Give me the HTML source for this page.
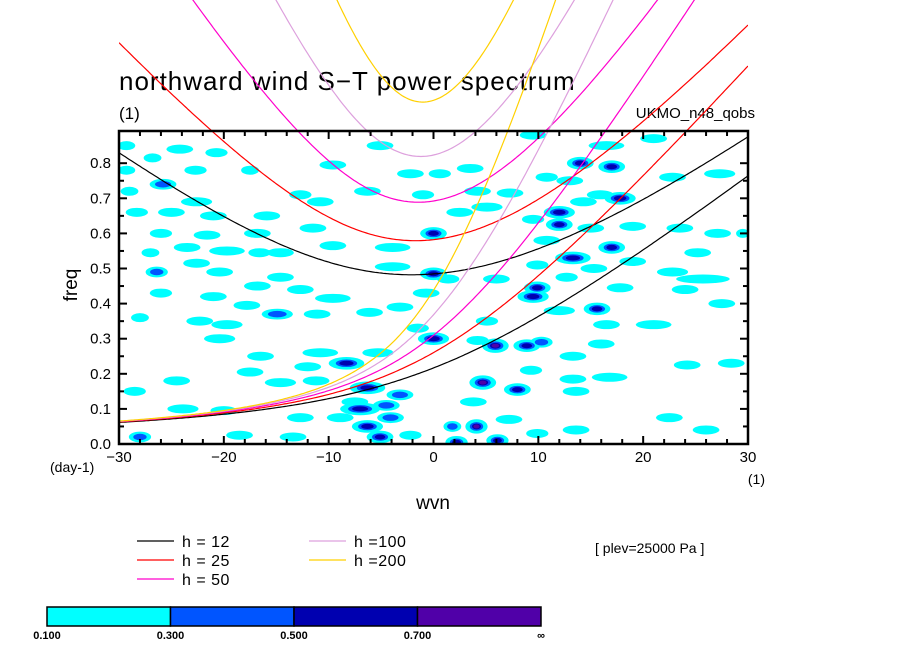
<!DOCTYPE html>
<html><head><meta charset="utf-8"><style>
html,body{margin:0;padding:0;background:#fff;}
svg{display:block;font-family:"Liberation Sans",sans-serif;}
</style></head><body>
<svg id="chart" width="904" height="654" viewBox="0 0 904 654" xmlns="http://www.w3.org/2000/svg">
<defs><clipPath id="plotclip"><rect x="119" y="131" width="629" height="313"/></clipPath>
<clipPath id="curveclip"><rect x="119" y="0" width="629" height="444"/></clipPath></defs>
<text x="119" y="90" font-size="26" letter-spacing="1" fill="#000">northward wind S−T power spectrum</text>
<text x="119" y="119" font-size="17" fill="#000">(1)</text>
<text x="755" y="118" font-size="15" text-anchor="end" fill="#000">UKMO_n48_qobs</text>
<g id="blobs" clip-path="url(#plotclip)"></g>
<g id="curves" clip-path="url(#curveclip)"></g>
<rect x="119" y="131" width="629" height="313" fill="none" stroke="#000" stroke-width="2.5"/>
<g id="ticks"></g>
<text transform="translate(77,285) rotate(-90)" font-size="19" text-anchor="middle" fill="#000">freq</text>
<text x="433" y="509" font-size="19" text-anchor="middle" fill="#000">wvn</text>
<text x="50" y="472" font-size="14" fill="#000">(day-1)</text>
<text x="765" y="484" font-size="14" text-anchor="end" fill="#000">(1)</text>
<g id="legend"></g>
<text x="595" y="553" font-size="14" fill="#000">[ plev=25000 Pa ]</text>
<g id="colorbar"></g>
</svg>
<script>
// ----- data -----
const depths = [12, 25, 50, 100, 200];
const depthColors = ["#000000", "#ff0000", "#ff00cc", "#dda0dd", "#ffd000"];
const xTicks = [-30, -20, -10, 0, 10, 20, 30];
const yTicks = [0.0, 0.1, 0.2, 0.3, 0.4, 0.5, 0.6, 0.7, 0.8];
const levels = [0.1, 0.3, 0.5, 0.7];
const levelLabels = ["0.100", "0.300", "0.500", "0.700", "∞"];
const levelColors = ["#00ffff", "#0055ff", "#0000b0", "#5000a8"];
// contour blobs: wavenumber, frequency, level index (0..3), width in wvn units
const blobK = [-29.3,-24.2,-20.7,-26.8,-29.3,-22.7,-17.5,-25.8,-29,-22.6,-28.3,-25,-21,-15.9,-12.7,-10.8,-6.3,-9.6,-5.1,-2.2,
-26,-21.6,-16.8,-11.5,-19.7,-27,-23.5,-16.6,-14.6,-9.6,-3.9,-22.6,-26.4,-20.4,-14.6,-3.9,-16.8,-12.7,-26,-21,
-17.8,-9.6,-14.9,-22.3,-19.7,-11.1,-6.1,-3.2,-28,-20.4,-16.5,-10.8,-5.3,-8.3,-12,-17.5,-24.5,-14.6,-11.2,-28.5,
-23.9,-20,-6.3,-7,-3.2,-6.3,-4.1,-8.9,-28,-13.4,-5.1,-2.2,-12.7,-18.5,
0,-1,3.5,0.6,9.5,16.5,21,17,14,13,10.8,4.2,7.3,17.8,15.9,22.8,27.3,14.3,5.1,2.5,
12,12,9.5,15,19,23.5,27.1,29.5,10.8,17,13.3,9.9,15.3,25.2,22.8,25.7,0,1.4,6,9.5,
12.7,9.9,17.8,-0.7,15.6,16.5,21,12,5.1,0,8.9,5.9,10.3,4.2,13.3,16,16.8,13.3,24.2,28.4,
4.7,8,9.3,3.8,13.6,4.1,1.8,7.2,9.9,2.2,6.1,13.6,22.5,26,-7.5,-4.5,-1.5,24,27.5,19];
const blobF = [0.85,0.84,0.83,0.815,0.78,0.78,0.78,0.74,0.72,0.69,0.66,0.66,0.65,0.65,0.71,0.69,0.72,0.795,0.85,0.77,
0.60,0.595,0.60,0.615,0.55,0.545,0.56,0.545,0.545,0.565,0.56,0.515,0.49,0.49,0.475,0.505,0.45,0.44,0.43,0.42,
0.395,0.415,0.37,0.35,0.34,0.37,0.375,0.39,0.36,0.30,0.25,0.26,0.26,0.23,0.22,0.205,0.18,0.175,0.18,0.15,
0.10,0.095,0.16,0.10,0.14,0.05,0.075,0.075,0.02,0.02,0.02,0.025,0.075,0.025,
0.60,0.71,0.785,0.77,0.88,0.85,0.87,0.79,0.80,0.75,0.76,0.72,0.715,0.70,0.71,0.76,0.77,0.69,0.675,0.66,
0.66,0.625,0.64,0.615,0.62,0.615,0.60,0.60,0.58,0.56,0.53,0.51,0.50,0.545,0.49,0.47,0.485,0.47,0.47,0.42,
0.475,0.445,0.445,0.43,0.385,0.34,0.34,0.38,0.35,0.30,0.28,0.28,0.29,0.295,0.25,0.285,0.19,0.185,0.225,0.23,
0.175,0.155,0.21,0.12,0.15,0.05,0.05,0.07,0.03,0.005,0.01,0.04,0.075,0.04,0.12,0.11,0.33,0.44,0.40,0.52];
const blobLvl = [0,0,0,0,0,0,0,1,0,0,0,0,0,0,0,0,0,0,0,0,
0,0,0,0,0,0,0,0,0,0,0,0,1,0,0,0,0,0,0,0,
0,0,1,0,0,0,0,0,0,0,0,0,0,2,0,0,0,0,0,0,
0,0,2,2,1,2,1,0,1,0,2,0,0,0,
2,0,0,0,0,0,0,2,2,0,0,0,0,2,0,0,0,0,0,0,
2,2,0,0,0,0,0,0,0,2,2,0,0,0,0,0,2,0,0,2,
0,2,0,0,2,0,0,0,0,2,2,3,1,0,0,0,0,0,0,0,
3,2,0,0,0,3,1,0,0,2,2,0,0,0,0,1,0,0,0,0];
const blobW = [2,3,2.5,2,2,2.5,2,3,2,3.5,2.5,3,3,3,2.5,3,3,3,3,3,
2.5,3,3,3,4,2,3,2.5,3,3,4,3,2.5,3,3,4,3,3,2.5,3,
3,4,3.5,3,3.5,3,3,3,2,3.5,3,4,3.5,4,3,3,3,3.5,3,2.5,
3.5,3,4,4.5,3,3.5,3,3,2.5,3,3,2.5,3,3,
3,2.5,3,2.5,3,4,3,3,3,3,2.5,3,3,3.5,3,3,3.5,3,3.5,3,
3.5,3,2.5,3,3,3,3,1.5,3,3,4,2.5,3,3,3.5,6,3,2.5,3,3.5,
2.5,3,3,3,3,3,4,3.5,2.5,3.5,3,3,2.5,2.5,3,3,4,3,3,3,
3,3,2.5,3,3,2.5,2,3,2.5,2.5,2.5,3,3,3,3,3,2.5,3,3,3];

// ----- axes -----
const X0=119, X1=748, Y0=444, PX=351;
const xs = k => X0 + (k+30)*(X1-X0)/60;
const ys = f => Y0 - f*PX;
const NS="http://www.w3.org/2000/svg";
function mk(tag, parent){const e=document.createElementNS(NS,tag);parent.appendChild(e);return e;}

// blobs
const gB=document.getElementById('blobs');
for(let lv=0;lv<4;lv++){
  for(let i=0;i<blobK.length;i++){
    if(blobLvl[i]<lv) continue;
    const e=mk('ellipse',gB);
    
    
    const s=[1,0.6,0.4,0.28][lv];
    e.setAttribute('cx',xs(blobK[i]));
    e.setAttribute('cy',ys(blobF[i]));
    e.setAttribute('rx',blobW[i]*10.48/2*0.85*s);
    e.setAttribute('ry',4.5*s*(1+0.2*blobLvl[i]));
    e.setAttribute('fill',levelColors[lv]);
  }
}

// dispersion curves
const g=9.81,a=6.371e6,Om=7.292e-5,beta=2*Om/a,toCpd=86400/(2*Math.PI);
function n0(k,c){return (k*c+Math.sqrt(k*k*c*c+4*beta*c))/2;}
function n2(k,c){const A=k*k*c*c+5*beta*c,B=beta*k*c*c;let w=2*Math.sqrt(A)+Math.cbrt(Math.abs(B))+1e-6;
  for(let j=0;j<60;j++){const f=w*w*w-A*w-B,d=3*w*w-A;w-=f/d;}return w;}
const gC=document.getElementById('curves');
depths.forEach((h,di)=>{
  const c=Math.sqrt(g*h);
  [n0,n2].forEach((fn,fi)=>{
    let pts=[];
    for(let s=-30;s<=30.001;s+=0.2){const k=s/a;const f=fn(k,c)*toCpd;pts.push(xs(s).toFixed(1)+','+ys(f).toFixed(1));}
    const p=mk('polyline',gC);
    
    
    p.setAttribute('points',pts.join(' '));
    p.setAttribute('fill','none');p.setAttribute('stroke',depthColors[di]);p.setAttribute('stroke-width','1.2');
  });
});

// ticks
const gT=document.getElementById('ticks');
function line(x1,y1,x2,y2,par,name){const l=mk('line',par);
  l.setAttribute('x1',x1);l.setAttribute('y1',y1);l.setAttribute('x2',x2);l.setAttribute('y2',y2);l.setAttribute('stroke','#000');l.setAttribute('stroke-width','2');return l;}
for(let s=-30;s<=30;s+=2){const maj=(s%10===0);const L=maj?8:5;
  line(xs(s),Y0,xs(s),Y0-L,gT,'x-tick');line(xs(s),131,xs(s),131+L,gT,'x-tick-top');}
for(let f=0;f<=0.85;f+=0.05){const maj=Math.abs(f*10-Math.round(f*10))<1e-6;const L=maj?8:5;
  line(X0,ys(f),X0+L,ys(f),gT,'y-tick');line(X1,ys(f),X1-L,ys(f),gT,'y-tick-right');}
xTicks.forEach(v=>{const t=mk('text',gT);
  t.setAttribute('x',xs(v));t.setAttribute('y',462);t.setAttribute('font-size','15');t.setAttribute('text-anchor','middle');t.textContent=(v<0?'−':'')+Math.abs(v);});
yTicks.forEach(v=>{const t=mk('text',gT);
  t.setAttribute('x',111);t.setAttribute('y',ys(v)+5);t.setAttribute('font-size','15');t.setAttribute('text-anchor','end');t.textContent=v.toFixed(1);});

// legend
const gL=document.getElementById('legend');
const legPos=[[137,541],[137,560],[137,579],[309,541],[309,560]];
const legText=["h = 12","h = 25","h = 50","h =100","h =200"];
depths.forEach((h,i)=>{const [x,y]=legPos[i];
  const l=mk('line',gL);
  l.setAttribute('x1',x);l.setAttribute('x2',x+37);l.setAttribute('y1',y);l.setAttribute('y2',y);l.setAttribute('stroke',depthColors[i]);l.setAttribute('stroke-width','1.2');
  const t=mk('text',gL);
  t.setAttribute('x',x+45);t.setAttribute('y',y+6);t.setAttribute('font-size','16');t.setAttribute('letter-spacing','0.5');t.textContent=legText[i];});

// colorbar
const gCB=document.getElementById('colorbar');
const cbX=47,cbW=494/4;
levelColors.forEach((col,i)=>{const r=mk('rect',gCB);
  r.setAttribute('x',cbX+i*cbW);r.setAttribute('y',607);r.setAttribute('width',cbW);r.setAttribute('height',19);r.setAttribute('fill',col);r.setAttribute('stroke','#000');r.setAttribute('stroke-width','1.5');});
levelLabels.forEach((lb,i)=>{const t=mk('text',gCB);
  t.setAttribute('x',cbX+i*cbW);t.setAttribute('y',639);t.setAttribute('font-size','11');t.setAttribute('font-weight','bold');t.setAttribute('text-anchor','middle');t.textContent=lb;});
</script>
</body></html>
